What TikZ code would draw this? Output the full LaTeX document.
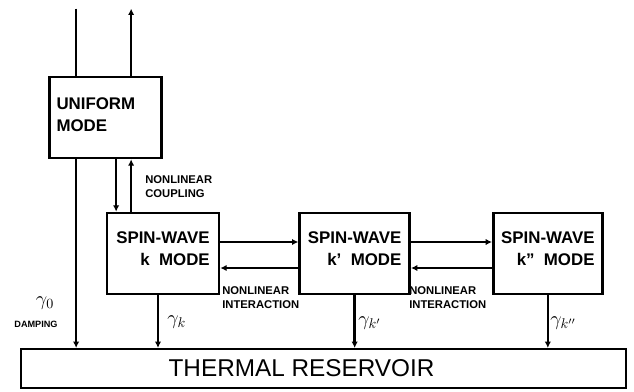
\documentclass[tikz,border=0pt]{standalone}
\usepackage{fontspec}
\setmainfont{Liberation Sans}
\usepackage{tikz}
\usetikzlibrary{arrows.meta, positioning}

\begin{document}
\begin{tikzpicture}[
        modebox/.style={draw, line width=1.9pt, inner sep=5pt,
                    minimum width=2.75cm, minimum height=2.025cm,
                    font=\fontsize{12}{16}\selectfont\bfseries},
        resbox/.style={draw, line width=1.5pt, minimum width=15.125cm,
                    minimum height=0.975cm},
        tag/.style={font=\fontsize{8}{10}\selectfont\bfseries, align=left,
                    inner sep=0pt},
        rate/.style={font=\Large, inner sep=0pt},
        arr/.style={-{Latex[length=4.5pt,width=4.5pt]}, line width=1.8pt},
        wire/.style={line width=1.8pt}
      ]
        \useasboundingbox (0,0) rectangle (15.85,-9.775);
        \node[modebox, text width=2.45cm, align=left, text depth=0.7cm] (uni) at (2.6375,-2.9375) {UNIFORM\\MODE};
        \node[modebox, minimum width=2.8cm, align=right, text depth=0.25cm] (swk)  at (4.075,-6.3375) {SPIN-WAVE\\k\ \ MODE};
        \node[modebox, align=right, text depth=0.25cm] (swk1) [right=1.95cm of swk]  {SPIN-WAVE\\k’\ \ MODE};
        \node[modebox, minimum width=2.725cm, align=right, text depth=0.25cm] (swk2) [right=2.025cm of swk1] {SPIN-WAVE\\k”\ \ MODE};
        \node[resbox] (res) at (8.0875,-9.2125) {};
        \node[font=\fontsize{17.3}{19}\selectfont, inner sep=0pt] (restxt) at ([xshift=-0.55cm]res.center) {THERMAL RESERVOIR};
        % drive and output above the uniform mode
        \coordinate (drive) at ([xshift=0.7cm,yshift=1.675cm]uni.north west);
        \coordinate (outp)  at ([xshift=2.075cm,yshift=1.675cm]uni.north west);
        \draw[wire] (drive) -- (drive |- uni.north);
        \draw[arr] (outp |- uni.north) -- (outp);
        % uniform mode to reservoir and spin-wave
        \coordinate (u0) at ([xshift=0.7cm]uni.south west);
        \coordinate (u1) at ([xshift=1.7cm]uni.south west);
        \coordinate (u2) at ([xshift=2.075cm]uni.south west);
        \draw[arr] (u0) -- (u0 |- res.north);
        \draw[arr] (u1) -- (u1 |- swk.north);
        \draw[arr] (u2 |- swk.north) -- (u2);
        \node[rate] (g0) at (1.125,-7.575) {$\gamma_0$};
        \node[tag, font=\fontsize{6.5}{8}\selectfont\bfseries] (damp) at (0.9,-8.1) {DAMPING};
        \node[tag, anchor=west] (coup) at (3.625,-4.675) {NONLINEAR\\COUPLING};
        % spin-wave interactions
        \draw[arr] ([yshift=0.2875cm]swk.east) -- ([yshift=0.2875cm]swk1.west);
        \draw[arr] ([yshift=-0.3625cm]swk1.west) -- ([yshift=-0.3625cm]swk.east);
        \draw[arr] ([yshift=0.2875cm]swk1.east) -- ([yshift=0.2875cm]swk2.west);
        \draw[arr] ([yshift=-0.3625cm]swk2.west) -- ([yshift=-0.3625cm]swk1.east);
        \node[tag, anchor=north west] (int1) at (5.55,-7.15) {NONLINEAR\\INTERACTION};
        \node[tag, anchor=north west] (int2) at (10.225,-7.15) {NONLINEAR\\INTERACTION};
        % damping of the spin-waves
        \coordinate (k0) at ([xshift=-0.125cm]swk.south);
        \draw[arr] (k0) -- (k0 |- res.north);
        \draw[arr] (swk1.south) -- (swk1.south |- res.north);
        \draw[arr] (swk2.south) -- (swk2.south |- res.north);
        \node[rate, anchor=west] (gk)  at (4.175,-8.05) {$\gamma_k$};
        \node[rate, anchor=west] (gk1) at (8.95,-8.075) {$\gamma_{k'}$};
        \node[rate, anchor=west] (gk2) at (13.75,-8.075) {$\gamma_{k''}$};
      \end{tikzpicture}
\end{document}
